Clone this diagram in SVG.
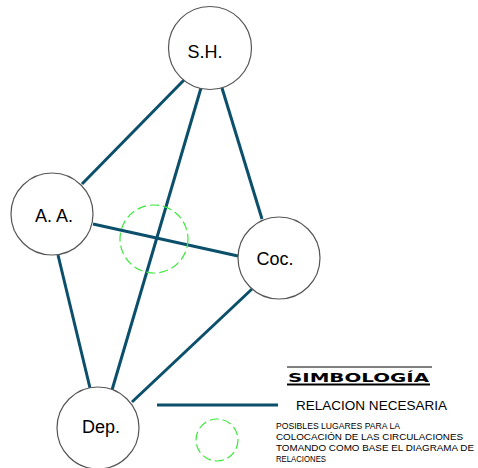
<svg xmlns="http://www.w3.org/2000/svg" width="478" height="468" viewBox="0 0 478 468">
<style>
.node{fill:#fff;stroke:#555;stroke-width:1.2}
.lbl{font-family:"Liberation Sans",Arial,sans-serif;font-size:18px;fill:#000;text-anchor:middle}
.conn{stroke:#0b4f6b;stroke-width:3;fill:none}
.zone{fill:none;stroke:#3be83b;stroke-width:1.2;stroke-dasharray:9 4}
.small{font-family:"Liberation Sans",Arial,sans-serif;font-size:9.5px;fill:#000}
</style>
<rect width="478" height="468" fill="#fff"/>
<g id="connectors">
<line class="conn" x1="184" y1="80" x2="82" y2="184"/>
<line class="conn" x1="201" y1="88" x2="112" y2="390"/>
<line class="conn" x1="222" y1="88" x2="262" y2="219"/>
<line class="conn" x1="93" y1="224" x2="238" y2="256"/>
<line class="conn" x1="58" y1="255" x2="90" y2="388"/>
<line class="conn" x1="252" y1="289" x2="132" y2="402"/>
</g>
<g id="zone"><circle class="zone" cx="154" cy="239" r="34"/></g>
<g id="sh"><circle class="node" cx="210" cy="48" r="41.5"/><text class="lbl" x="205" y="58">S.H.</text></g>
<g id="aa"><circle class="node" cx="52" cy="214" r="41"/><text class="lbl" x="54" y="222">A. A.</text></g>
<g id="coc"><circle class="node" cx="279" cy="258" r="41"/><text class="lbl" x="275" y="265">Coc.</text></g>
<g id="dep"><circle class="node" cx="98" cy="428" r="41"/><text class="lbl" x="101" y="433">Dep.</text></g>
<g id="legend">
<line x1="287" y1="367" x2="432" y2="367" stroke="#000" stroke-width="1"/>
<text x="288" y="382" font-family="'DejaVu Sans',sans-serif" font-weight="bold" font-size="12" textLength="141" lengthAdjust="spacingAndGlyphs">SIMBOLOGÍA</text>
<line x1="287" y1="384.5" x2="430" y2="384.5" stroke="#000" stroke-width="2"/>
<line class="conn" x1="157" y1="405" x2="278" y2="405"/>
<text x="296" y="410" font-family="'Liberation Sans',Arial,sans-serif" font-size="13.5" textLength="151" lengthAdjust="spacingAndGlyphs">RELACION NECESARIA</text>
<circle class="zone" cx="217" cy="440" r="21" stroke-dasharray="7 4"/>
<text class="small" x="276" y="429" textLength="124" lengthAdjust="spacingAndGlyphs">POSIBLES LUGARES PARA LA</text>
<text class="small" x="276" y="440" textLength="187" lengthAdjust="spacingAndGlyphs">COLOCACIÓN DE LAS CIRCULACIONES</text>
<text class="small" x="276" y="451" textLength="198" lengthAdjust="spacingAndGlyphs">TOMANDO COMO BASE EL DIAGRAMA DE</text>
<text class="small" x="276" y="462" textLength="50" lengthAdjust="spacingAndGlyphs">RELACIONES</text>
</g>
</svg>
